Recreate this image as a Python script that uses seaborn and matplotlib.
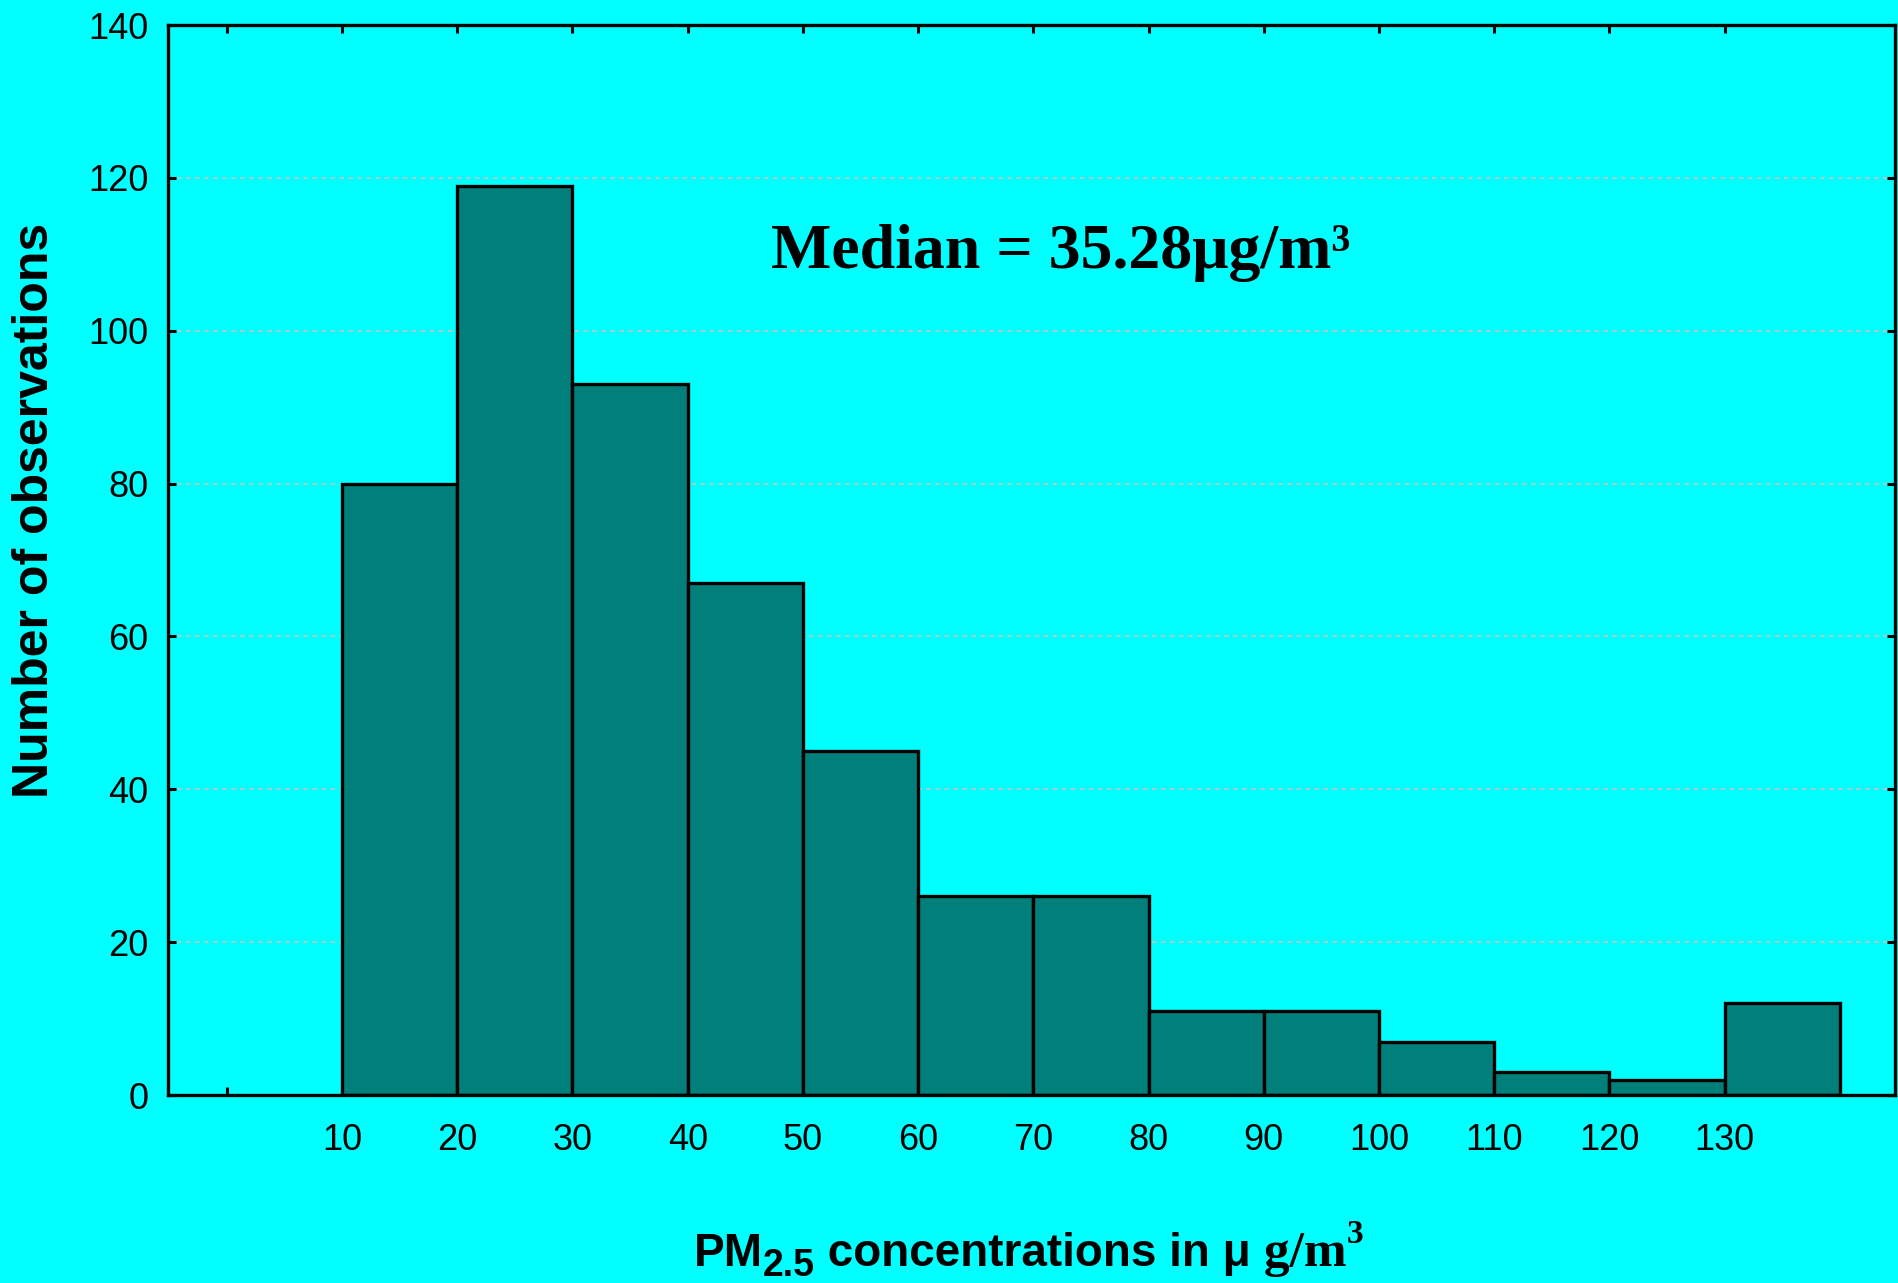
import matplotlib
matplotlib.use('Agg')
import matplotlib.pyplot as plt
import seaborn as sns

# ---- data ----
bin_edges = [10, 20, 30, 40, 50, 60, 70, 80, 90, 100, 110, 120, 130, 140]
counts = [80, 119, 93, 67, 45, 26, 26, 11, 11, 7, 3, 2, 12]
x_ticks = [0, 10, 20, 30, 40, 50, 60, 70, 80, 90, 100, 110, 120, 130]
x_tick_labels = ['', '10', '20', '30', '40', '50', '60', '70', '80', '90', '100', '110', '120', '130']
y_ticks = [0, 20, 40, 60, 80, 100, 120, 140]
median_text = 'Median = 35.28μg/m³'

sns.set_theme(style='ticks')
SANS = ['Liberation Sans', 'DejaVu Sans']
SERIF = ['Liberation Serif', 'DejaVu Serif']
plt.rcParams['font.family'] = SANS

BG = '#00FFFF'
fig = plt.figure(figsize=(18.99, 12.83), dpi=100, facecolor=BG)
ax = fig.add_axes([0.0885, 0.1465, 0.9095, 0.834])
ax.set_facecolor(BG)

sns.histplot(x=bin_edges[:-1], weights=counts, bins=bin_edges, color='#007F7B',
             edgecolor='black', linewidth=2.4, alpha=1, ax=ax, zorder=2)

ax.set_xlim(-5.1, 144.8)
ax.set_ylim(0, 140)
ax.set_xticks(x_ticks)
ax.set_xticklabels(x_tick_labels)
ax.set_yticks(y_ticks)
ax.set_ylabel('')
ax.set_xlabel('')
ax.yaxis.grid(True, linestyle=(0, (2.5, 2.5)), color='#b8c8c8', linewidth=1.3)
ax.set_axisbelow(True)
for s in ax.spines.values():
    s.set_visible(True)
    s.set_linewidth(2.4)
    s.set_color('black')
ax.tick_params(direction='in', length=6, width=2.2, top=True, right=True,
               labelsize=26, colors='black')
ax.tick_params(axis='x', pad=20)
ax.tick_params(axis='y', pad=14)

# y label
fig.text(0.0185, 0.602, 'Number of observations', rotation=90, ha='center', va='center',
         family=SANS, fontweight='bold', fontsize=36, color='black')

# median annotation
ax.text(72.4, 110.2, median_text, ha='center', va='center',
        family=SERIF, fontweight='bold', fontsize=46, color='black')

# x label, composed of pieces
fig.canvas.draw()
r = fig.canvas.get_renderer()
W, H = fig.bbox.width, fig.bbox.height
x = 694
base = H - 1266
parts = [
    ('PM', SANS, 33, 0),
    ('2.5', SANS, 27, -10),
    (' concentrations in μ', SANS, 33, 0),
    (' g/m', SERIF, 37, 0),
    ('3', SERIF, 24, 23),
]
for s, fam, size, dy in parts:
    t = fig.text(x / W, (base + dy) / H, s, ha='left', va='baseline',
                 family=fam, fontweight='bold', fontsize=size, color='black')
    bb = t.get_window_extent(r)
    x = bb.x1

fig.savefig('out.png', dpi=100, facecolor=BG)
